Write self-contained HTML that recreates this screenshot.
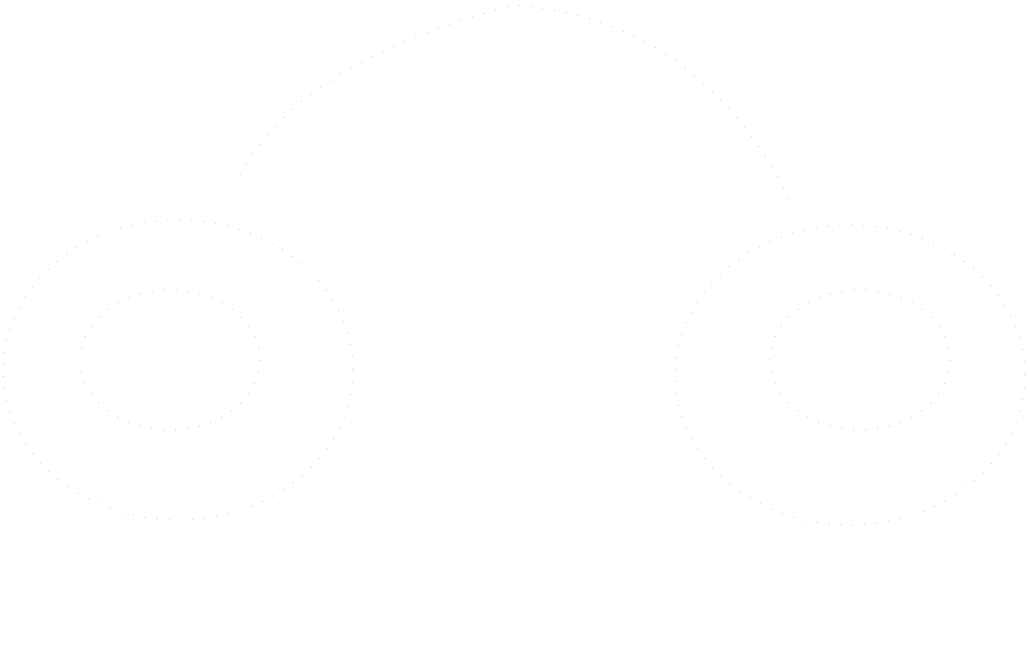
<!DOCTYPE html>
<html><head><meta charset="utf-8"><style>html,body{margin:0;padding:0;width:1030px;height:649px;background:#fff;overflow:hidden}</style></head><body>
<svg width="1030" height="649" viewBox="0 0 1030 649" style="position:absolute;left:0;top:0">
<g fill="none" stroke="#d4d4d4" stroke-width="1.2" stroke-dasharray="1 11">
<path d="M240 175 Q300 60 515 5 Q700 20 790 200"/>
<ellipse cx="178" cy="370" rx="175" ry="150"/>
<ellipse cx="850" cy="375" rx="175" ry="150"/>
<ellipse cx="170" cy="360" rx="90" ry="70"/>
<ellipse cx="860" cy="360" rx="90" ry="70"/>
</g>
</svg>
</body></html>
